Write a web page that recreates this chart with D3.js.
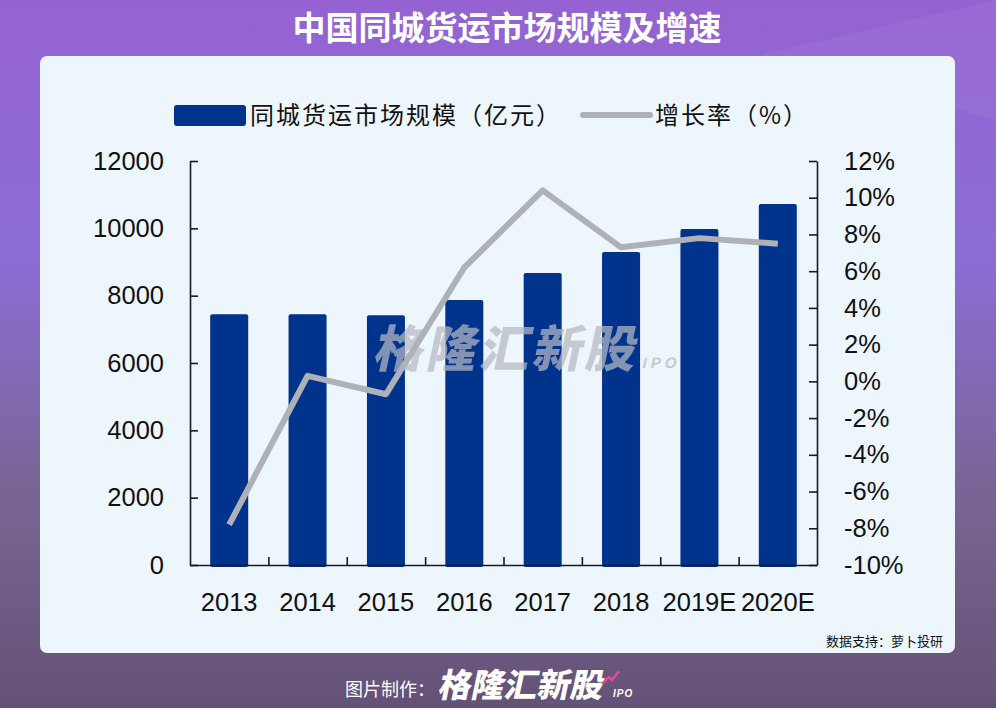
<!DOCTYPE html>
<html>
<head>
<meta charset="utf-8">
<script src="https://cdn.jsdelivr.net/npm/d3@7"></script>
<style>
  html, body { margin: 0; padding: 0; }
  body { width: 996px; height: 708px; overflow: hidden; }
  svg { display: block; }
</style>
</head>
<body>
<div id="chart"></div>
<script>
// data
var years = ["2013", "2014", "2015", "2016", "2017", "2018", "2019E", "2020E"];
var marketSize = [7450, 7450, 7420, 7870, 8670, 9300, 9980, 10720];   // 亿元
var growthRate = [-7.8, 0.3, -0.7, 6.2, 10.4, 7.3, 7.8, 7.5];          // %
var leftTicks = [0, 2000, 4000, 6000, 8000, 10000, 12000];
var rightTicks = [-10, -8, -6, -4, -2, 0, 2, 4, 6, 8, 10, 12];

var W = 996, H = 708;
var plot = { left: 190, right: 817, top: 161, bottom: 565 };
var cjk = "'Noto Sans CJK SC', 'Noto Sans', sans-serif";
var latin = "'Liberation Sans', Arial, sans-serif";

var svg = d3.select("#chart").append("svg")
    .attr("width", W).attr("height", H)
    .attr("viewBox", "0 0 " + W + " " + H);

// background gradient
var defs = svg.append("defs");
var bg = defs.append("linearGradient").attr("id", "bg")
    .attr("x1", 0).attr("y1", 0).attr("x2", 0).attr("y2", 1);
bg.append("stop").attr("offset", "0%").attr("stop-color", "#9562d1");
bg.append("stop").attr("offset", "35%").attr("stop-color", "#8c6dd7");
bg.append("stop").attr("offset", "70%").attr("stop-color", "#786594");
bg.append("stop").attr("offset", "100%").attr("stop-color", "#645276");
svg.append("rect").attr("width", W).attr("height", H).attr("fill", "url(#bg)");
// light diagonal streak top right
svg.append("path")
    .attr("d", "M760,55 L996,0 L996,120 Z")
    .attr("fill", "#ffffff").attr("opacity", 0.05);

// title
svg.append("text")
    .attr("x", 507).attr("y", 40)
    .attr("text-anchor", "middle")
    .style("font-family", cjk).style("font-weight", "bold")
    .style("font-size", "33px").attr("fill", "#ffffff")
    .text("中国同城货运市场规模及增速");

// panel
svg.append("rect")
    .attr("x", 40).attr("y", 56).attr("width", 915).attr("height", 597)
    .attr("rx", 7).attr("fill", "#eef6fd");

// scales
var x = d3.scaleBand().domain(years)
    .range([plot.left, plot.right])
    .paddingInner(0.515).paddingOuter(0.2575);
var yL = d3.scaleLinear().domain([0, 12000]).range([plot.bottom, plot.top]);
var yR = d3.scaleLinear().domain([-10, 12]).range([plot.bottom, plot.top]);
var xi = d3.scaleLinear().domain([0, years.length]).range([plot.left, plot.right]);

// bars
svg.append("g").selectAll("rect")
    .data(marketSize)
    .enter()
    .append("rect")
    .attr("x", function (d, i) { return x(years[i]); })
    .attr("y", function (d) { return yL(d); })
    .attr("width", x.bandwidth())
    .attr("height", function (d) { return plot.bottom + 2 - yL(d); })
    .attr("rx", 2)
    .attr("fill", "#00338c");

// watermark (sits over the bars)
var wm = svg.append("g").attr("opacity", 0.72)
    .attr("transform", "translate(372,367) skewX(-12)");
wm.append("text")
    .attr("x", 0).attr("y", 0)
    .style("font-family", cjk).style("font-weight", "900")
    .style("font-size", "50px").style("letter-spacing", "3px").attr("fill", "#b4b8c2")
    .text("格隆汇新股");
wm.append("text")
    .attr("x", 270).attr("y", 1)
    .style("font-family", latin).style("font-weight", "bold")
    .style("font-size", "15px").style("letter-spacing", "4px").attr("fill", "#b4b8c2")
    .text("IPO");

// line
var line = d3.line()
    .x(function (d, i) { return x(years[i]) + x.bandwidth() / 2; })
    .y(function (d) { return yR(d); });
svg.append("path")
    .datum(growthRate)
    .attr("d", line)
    .attr("fill", "none")
    .attr("stroke", "#aeb1b6")
    .attr("stroke-width", 6)
    .attr("stroke-linejoin", "round");

// axes
function styleAxis(g) {
    g.select(".domain").attr("stroke", "#1a1a1a").attr("stroke-width", 1.6);
    g.selectAll(".tick line").attr("stroke", "#1a1a1a").attr("stroke-width", 1.6);
    g.selectAll("text")
        .style("font-family", latin).style("font-size", "25.5px").attr("fill", "#111");
}

svg.append("g")
    .attr("transform", "translate(" + plot.left + ",0)")
    .call(d3.axisLeft(yL).tickValues(leftTicks).tickSizeInner(-8).tickSizeOuter(0).tickPadding(26)
        .tickFormat(d3.format("d")))
    .call(styleAxis);

svg.append("g")
    .attr("transform", "translate(" + plot.right + ",0)")
    .call(d3.axisRight(yR).tickValues(rightTicks).tickSizeInner(-8).tickSizeOuter(0).tickPadding(27)
        .tickFormat(function (d) { return d + "%"; }))
    .call(styleAxis);

svg.append("g")
    .attr("transform", "translate(0," + plot.bottom + ")")
    .call(d3.axisBottom(xi).tickValues(d3.range(1, years.length)).tickSizeInner(-8).tickSizeOuter(0)
        .tickFormat(""))
    .call(styleAxis);

var gX = svg.append("g")
    .attr("transform", "translate(0," + plot.bottom + ")")
    .call(d3.axisBottom(x).tickSize(0).tickPadding(28))
    .call(styleAxis);
gX.select(".domain").remove();

// legend
var lg = svg.append("g");
lg.append("rect")
    .attr("x", 174).attr("y", 105).attr("width", 72).attr("height", 21)
    .attr("rx", 3).attr("fill", "#00338c");
lg.append("text")
    .attr("x", 250).attr("y", 124)
    .style("font-family", cjk).style("font-size", "24px").style("letter-spacing", "2px")
    .attr("fill", "#111")
    .text("同城货运市场规模（亿元）");
lg.append("line")
    .attr("x1", 583).attr("x2", 650).attr("y1", 115).attr("y2", 115)
    .attr("stroke", "#aeb1b6").attr("stroke-width", 6).attr("stroke-linecap", "round");
lg.append("text")
    .attr("x", 655).attr("y", 124)
    .style("font-family", cjk).style("font-size", "24px").style("letter-spacing", "2px")
    .attr("fill", "#111")
    .text("增长率（%）");

// source note
svg.append("text")
    .attr("x", 943).attr("y", 646).attr("text-anchor", "end")
    .style("font-family", cjk).style("font-size", "13px").attr("fill", "#111")
    .text("数据支持：萝卜投研");

// footer
svg.append("text")
    .attr("x", 345).attr("y", 696)
    .style("font-family", cjk).style("font-size", "18px").attr("fill", "#ffffff")
    .text("图片制作：");
svg.append("g")
    .attr("transform", "translate(437,697) skewX(-12)")
    .append("text")
    .style("font-family", cjk).style("font-weight", "900")
    .style("font-size", "33px").attr("fill", "#ffffff")
    .text("格隆汇新股");
svg.append("text")
    .attr("x", 613).attr("y", 697)
    .style("font-family", latin).style("font-weight", "bold").style("font-style", "italic")
    .style("font-size", "10px").style("letter-spacing", "1px").attr("fill", "#ffffff")
    .text("IPO");
svg.append("path")
    .attr("d", "M603,683 L609,677 L612,680 L619,671")
    .attr("fill", "none").attr("stroke", "#e8488f").attr("stroke-width", 2.5);
</script>
</body>
</html>
